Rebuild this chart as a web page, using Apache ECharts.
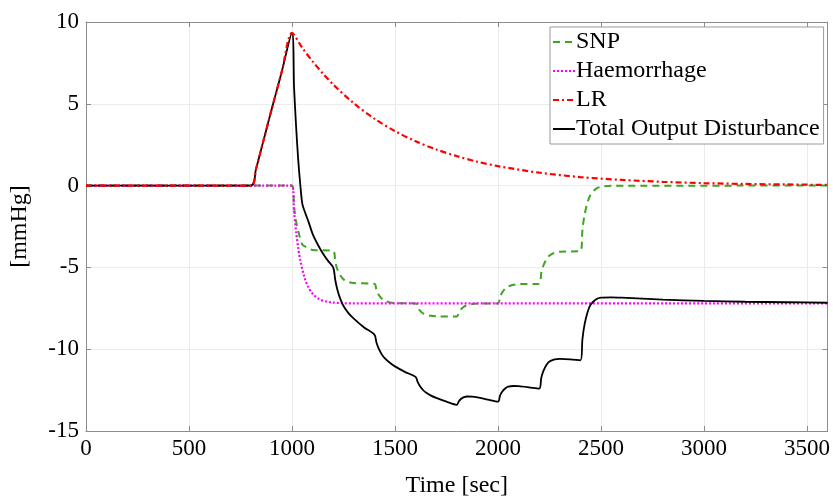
<!DOCTYPE html>
<html>
<head>
<meta charset="utf-8">
<script src="https://cdn.jsdelivr.net/npm/echarts@6/dist/echarts.min.js"></script>
<style>
  html, body { margin: 0; padding: 0; background: #fff; }
  #chart { width: 833px; height: 503px; }
</style>
</head>
<body>
<div id="chart"></div>
<script>
// time [sec], value [mmHg]
const snpData = [
  [0, 0], [1000, 0], [1010, -1.3], [1020, -2.2], [1035, -3.0], [1050, -3.6], [1075, -3.8], [1100, -3.93], [1200, -4.0],
  [1210, -4.66], [1220, -5.1], [1235, -5.5], [1250, -5.73], [1275, -5.9], [1300, -5.96], [1400, -6.0],
  [1410, -6.4], [1420, -6.66], [1435, -6.9], [1450, -7.04], [1475, -7.14], [1500, -7.18], [1600, -7.2],
  [1610, -7.46], [1620, -7.63], [1635, -7.8], [1650, -7.89], [1675, -7.96], [1700, -7.99], [1800, -8.0],
  [1810, -7.74], [1820, -7.57], [1835, -7.4], [1850, -7.31], [1875, -7.24], [1900, -7.21], [2000, -7.2],
  [2010, -6.8], [2020, -6.54], [2035, -6.3], [2050, -6.16], [2075, -6.06], [2100, -6.02], [2200, -6.0],
  [2210, -5.34], [2220, -4.9], [2235, -4.5], [2250, -4.27], [2275, -4.1], [2300, -4.04], [2400, -4.0],
  [2410, -2.68], [2420, -1.8], [2435, -1.0], [2450, -0.54], [2475, -0.2], [2500, -0.07], [2550, -0.01], [3600, 0]
]

const haemData = [
  [0, 0], [1000, 0], [1010, -1.59], [1020, -2.83], [1030, -3.8], [1040, -4.55], [1060, -5.59], [1080, -6.23],
  [1100, -6.61], [1130, -6.92], [1160, -7.07], [1200, -7.15], [1250, -7.19], [1300, -7.2], [3600, -7.2]
]

const lrData = [
  [0, 0], [800, 0], [825, 1.0], [850, 2.2], [900, 4.6], [950, 6.95], [1000, 9.33],
  [1050, 8.42], [1100, 7.59], [1150, 6.85], [1200, 6.18], [1300, 5.03], [1400, 4.09], [1500, 3.33],
  [1600, 2.71], [1700, 2.21], [1800, 1.8], [1900, 1.46], [2000, 1.19], [2200, 0.79], [2400, 0.52],
  [2600, 0.35], [2800, 0.23], [3000, 0.15], [3200, 0.1], [3400, 0.07], [3600, 0.04]
]

const totalData = [
  [0, 0], [800, 0], [825, 1.0], [850, 2.2], [900, 4.6], [950, 6.95], [1000, 9.33],
  [1010, 6.0], [1020, 3.6], [1030, 1.6], [1040, 0.1], [1050, -1.1], [1065, -1.7], [1080, -2.2],
  [1100, -2.95], [1125, -3.6], [1150, -4.15], [1175, -4.6], [1200, -5.0],
  [1210, -5.77], [1220, -6.35], [1235, -6.94], [1250, -7.36], [1275, -7.81], [1300, -8.13], [1350, -8.67], [1400, -9.11],
  [1410, -9.59], [1420, -9.94], [1435, -10.3], [1450, -10.55], [1475, -10.83], [1500, -11.05], [1550, -11.4], [1600, -11.69],
  [1610, -12.0], [1620, -12.23], [1635, -12.48], [1650, -12.65], [1675, -12.84], [1700, -12.98], [1750, -13.21], [1800, -13.4],
  [1810, -13.18], [1820, -13.04], [1835, -12.93], [1850, -12.89], [1875, -12.9], [1900, -12.95], [1950, -13.08], [2000, -13.21],
  [2010, -12.83], [2020, -12.6], [2035, -12.4], [2050, -12.29], [2075, -12.25], [2100, -12.26], [2150, -12.33], [2200, -12.41],
  [2210, -11.76], [2220, -11.34], [2235, -10.96], [2250, -10.75], [2275, -10.62], [2300, -10.59], [2350, -10.62], [2400, -10.68],
  [2410, -9.37], [2420, -8.5], [2435, -7.72], [2450, -7.27], [2475, -6.96], [2500, -6.85], [2550, -6.83], [2600, -6.85],
  [2800, -6.97], [3000, -7.05], [3200, -7.1], [3400, -7.13], [3600, -7.16]
]

const xTicks = { min: 0, max: 3600, interval: 500 }
const yTicks = { min: -15, max: 10, interval: 5 }

const font = '"Liberation Serif", "DejaVu Serif", serif'
const chart = echarts.init(document.getElementById('chart'))

const axisLineStyle = { color: '#8c8c8c', width: 1 }
const splitStyle = { color: '#ebebeb', width: 1 }
const plainNum = v => String(v)

chart.setOption({
  animation: false,
  backgroundColor: '#fff',
  grid: { left: 86, right: 5, top: 22, bottom: 70, containLabel: false },
  legend: {
    orient: 'vertical',
    left: 550,
    top: 27,
    width: 272,
    padding: [3, 4, 3, 2],
    itemGap: 5,
    itemWidth: 22,
    itemHeight: 10,
    backgroundColor: '#fff',
    borderColor: '#9a9a9a',
    borderWidth: 1,
    itemStyle: { opacity: 0 },
    textStyle: { fontFamily: font, fontSize: 24, color: '#000', padding: [0, 0, 0, -4] },
    data: ['SNP', 'Haemorrhage', 'LR', 'Total Output Disturbance']
  },
  xAxis: [
    {
      type: 'value',
      min: xTicks.min,
      max: xTicks.max,
      interval: xTicks.interval,
      name: 'Time [sec]',
      nameLocation: 'middle',
      nameGap: 43,
      nameTextStyle: { fontFamily: font, fontSize: 24, color: '#000' },
      axisLine: { show: true, onZero: false, lineStyle: axisLineStyle },
      axisTick: { show: true, inside: true, length: 5, lineStyle: axisLineStyle },
      axisLabel: {
        fontFamily: font, fontSize: 23, color: '#000', margin: 6,
        showMaxLabel: false, formatter: plainNum
      },
      splitLine: { show: true, lineStyle: splitStyle }
    },
    {
      type: 'value',
      position: 'top',
      min: xTicks.min,
      max: xTicks.max,
      interval: xTicks.interval,
      axisLine: { show: true, onZero: false, lineStyle: axisLineStyle },
      axisTick: { show: true, inside: true, length: 5, lineStyle: axisLineStyle },
      axisLabel: { show: false },
      splitLine: { show: false }
    }
  ],
  yAxis: [
    {
      type: 'value',
      min: yTicks.min,
      max: yTicks.max,
      interval: yTicks.interval,
      name: '[mmHg]',
      nameLocation: 'middle',
      nameGap: 54,
      nameRotate: 90,
      nameTextStyle: { fontFamily: font, fontSize: 24, color: '#000' },
      axisLine: { show: true, onZero: false, lineStyle: axisLineStyle },
      axisTick: { show: true, inside: true, length: 5, lineStyle: axisLineStyle },
      axisLabel: { fontFamily: font, fontSize: 23, color: '#000', margin: 7, formatter: plainNum },
      splitLine: { show: true, lineStyle: splitStyle }
    },
    {
      type: 'value',
      position: 'right',
      min: yTicks.min,
      max: yTicks.max,
      interval: yTicks.interval,
      axisLine: { show: true, onZero: false, lineStyle: axisLineStyle },
      axisTick: { show: true, inside: true, length: 5, lineStyle: axisLineStyle },
      axisLabel: { show: false },
      splitLine: { show: false }
    }
  ],
  series: [
    {
      name: 'SNP',
      type: 'line',
      symbol: 'none',
      smooth: 0.3,
      data: snpData,
      lineStyle: { color: '#3da51f', width: 2, type: [7, 5] },
      itemStyle: { color: '#3da51f' },
      z: 2
    },
    {
      name: 'Haemorrhage',
      type: 'line',
      symbol: 'none',
      smooth: 0.3,
      data: haemData,
      lineStyle: { color: '#ff00ff', width: 2.2, type: [2, 2] },
      itemStyle: { color: '#ff00ff' },
      z: 3
    },
    {
      name: 'Total Output Disturbance',
      type: 'line',
      symbol: 'none',
      smooth: 0.3,
      data: totalData,
      lineStyle: { color: '#000', width: 1.8 },
      itemStyle: { color: '#000' },
      z: 4
    },
    {
      name: 'LR',
      type: 'line',
      symbol: 'none',
      smooth: 0.3,
      data: lrData,
      lineStyle: { color: '#ff0000', width: 2.2, type: [6, 3, 2, 3] },
      itemStyle: { color: '#ff0000' },
      z: 5
    }
  ]
})
</script>
</body>
</html>
